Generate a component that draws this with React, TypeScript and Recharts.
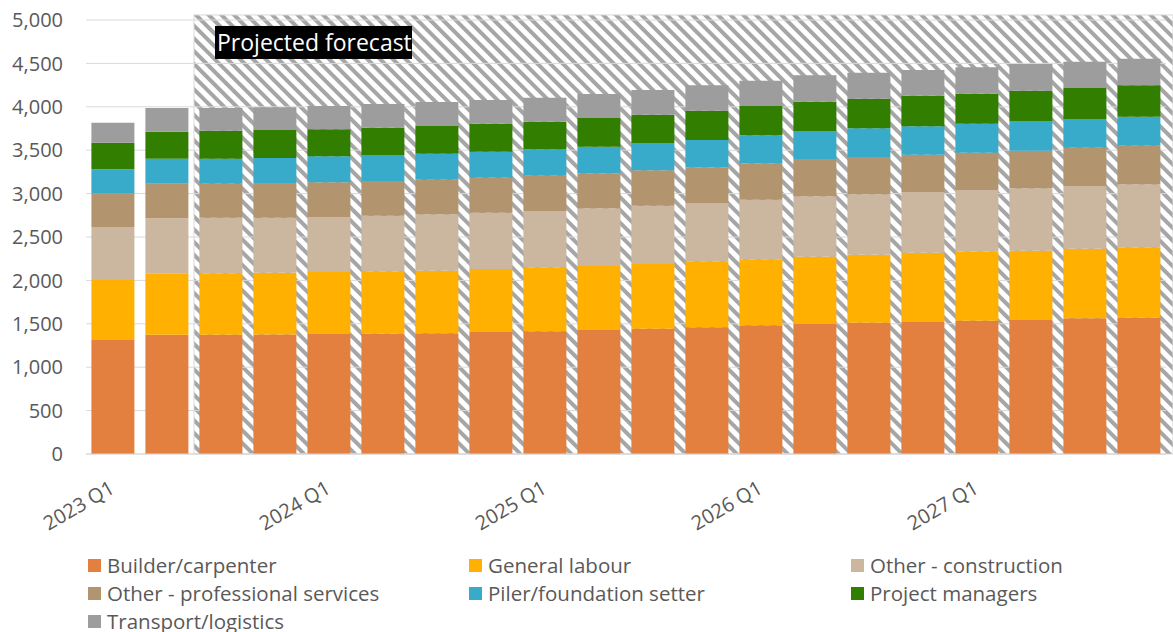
import { BarChart, Bar, XAxis, YAxis, CartesianGrid, ReferenceArea } from "recharts";

const quarters = [
  "2023 Q1", "2023 Q2", "2023 Q3", "2023 Q4",
  "2024 Q1", "2024 Q2", "2024 Q3", "2024 Q4",
  "2025 Q1", "2025 Q2", "2025 Q3", "2025 Q4",
  "2026 Q1", "2026 Q2", "2026 Q3", "2026 Q4",
  "2027 Q1", "2027 Q2", "2027 Q3", "2027 Q4",
];

const builder = [1313, 1374, 1374, 1378, 1382, 1386, 1390, 1406, 1414, 1429, 1444, 1460, 1483, 1498, 1513, 1521, 1536, 1544, 1563, 1570];
const labour = [692, 708, 708, 711, 715, 719, 722, 725, 737, 737, 745, 760, 760, 775, 783, 798, 795, 798, 802, 811];
const otherConstruction = [610, 633, 640, 633, 633, 640, 649, 649, 649, 665, 672, 672, 687, 696, 696, 699, 710, 719, 723, 726];
const professional = [384, 399, 392, 400, 400, 400, 399, 403, 406, 403, 407, 411, 419, 430, 430, 430, 430, 433, 441, 445];
const piler = [281, 288, 288, 288, 300, 300, 300, 300, 304, 307, 315, 315, 323, 322, 330, 327, 334, 342, 330, 334];
const managers = [306, 311, 323, 323, 311, 314, 319, 322, 318, 330, 326, 337, 337, 338, 341, 353, 346, 350, 358, 362];
const transport = [231, 273, 261, 261, 268, 273, 276, 273, 277, 276, 285, 292, 292, 304, 300, 296, 304, 307, 303, 306];

const yTicks = [0, 500, 1000, 1500, 2000, 2500, 3000, 3500, 4000, 4500, 5000];
const forecastStart = "2023 Q3";
const forecastEnd = "2027 Q4";

const series = [
  { key: "builder", name: "Builder/carpenter", color: "#e4803f", values: builder },
  { key: "labour", name: "General labour", color: "#ffb000", values: labour },
  { key: "otherConstruction", name: "Other - construction", color: "#cbb79f", values: otherConstruction },
  { key: "professional", name: "Other - professional services", color: "#b2946e", values: professional },
  { key: "piler", name: "Piler/foundation setter", color: "#37abc9", values: piler },
  { key: "managers", name: "Project managers", color: "#327e00", values: managers },
  { key: "transport", name: "Transport/logistics", color: "#9d9d9d", values: transport },
];

const data = quarters.map((q, i) => {
  const row: Record<string, any> = { q };
  series.forEach((s) => (row[s.key] = s.values[i]));
  return row;
});

const FONT = "'Open Sans', sans-serif";

function QuarterTick({ x, y, payload }: any) {
  const tx = x + 3;
  const ty = y + 30;
  return (
    <text
      x={tx}
      y={ty}
      transform={`rotate(-30, ${tx}, ${ty})`}
      textAnchor="end"
      fill="#595959"
      fontSize={20}
      fontFamily={FONT}
    >
      {payload.value}
    </text>
  );
}

// hatched block behind the forecast quarters, with the black caption box
function ForecastArea(props: any) {
  const { x, y, width, height } = props;
  return (
    <g>
      <rect x={x} y={y} width={width + 7} height={height} fill="url(#hatch)" stroke="#d9d9d9" strokeWidth={1} />
      <rect x={x + 21} y={y + 11} width={197} height={33} fill="#000" />
      <text x={x + 23} y={y + 36} fill="#fff" fontSize={23} fontFamily={FONT}>
        Projected forecast
      </text>
    </g>
  );
}

export default function App() {
  const legendCols = [88, 469, 851];
  return (
    <div style={{ position: "relative", width: 1173, height: 632, fontFamily: FONT, overflow: "hidden" }}>
      <style>{`body{margin:0}`}</style>
      <BarChart
        width={1173}
        height={632}
        data={data}
        margin={{ top: 20, right: 7, left: 0, bottom: 118 }}
        barCategoryGap="10%"
      >
        <defs>
          <pattern id="hatch" patternUnits="userSpaceOnUse" width={9} height={9} patternTransform="rotate(-45)">
            <rect width={9} height={9} fill="#fff" />
            <rect width={4} height={9} fill="#a6a6a6" />
          </pattern>
        </defs>
        <ReferenceArea
          x1={forecastStart}
          x2={forecastEnd}
          y1={0}
          y2={5058}
          ifOverflow="visible"
          zIndex={-150}
          shape={ForecastArea}
        />
        <CartesianGrid vertical={false} stroke="#d9d9d9" />
        <XAxis
          dataKey="q"
          interval={3}
          tickLine={false}
          axisLine={{ stroke: "#d9d9d9" }}
          height={60}
          tick={<QuarterTick />}
        />
        <YAxis
          width={86}
          domain={[0, 5000]}
          ticks={yTicks}
          axisLine={false}
          tickLine={false}
          tickMargin={17}
          tickFormatter={(v: number) => v.toLocaleString("en-US")}
          tick={{ fill: "#595959", fontSize: 20, fontFamily: FONT }}
        />
        {series.map((s) => (
          <Bar key={s.key} dataKey={s.key} name={s.name} stackId="a" fill={s.color} isAnimationActive={false} />
        ))}
      </BarChart>
      {series.map((s, i) => {
        const col = i % 3;
        const row = Math.floor(i / 3);
        return (
          <div
            key={s.key}
            style={{
              position: "absolute",
              left: legendCols[col],
              top: 551 + row * 28,
              height: 28,
              display: "flex",
              alignItems: "center",
              fontSize: 20.5,
              color: "#595959",
              whiteSpace: "nowrap",
            }}
          >
            <span style={{ width: 13, height: 13, background: s.color, marginRight: 6, display: "inline-block" }} />
            {s.name}
          </div>
        );
      })}
    </div>
  );
}
